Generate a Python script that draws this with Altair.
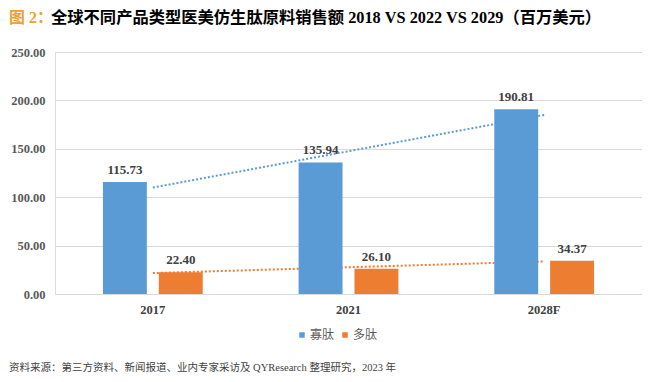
import altair as alt
import numpy as np
import pandas as pd

categories = ["2017", "2021", "2028F"]
series = ["寡肽", "多肽"]
oligo = [115.73, 135.94, 190.81]
poly = [22.40, 26.10, 34.37]
y_ticks = [0, 50, 100, 150, 200, 250]

title_prefix = "图 2："
title_main = "全球不同产品类型医美仿生肽原料销售额 2018 VS 2022 VS 2029（百万美元）"
source_text = "资料来源：第三方资料、新闻报道、业内专家采访及 QYResearch 整理研究，2023 年"

colors = ["#5B9BD5", "#ED7D31"]

rows = []
for s, vals in zip(series, [oligo, poly]):
    for c, v in zip(categories, vals):
        rows.append({"year": c, "series": s, "value": v})
df = pd.DataFrame(rows)

# linear trend lines (Excel-style) fitted on category index
trend_rows = []
idx = np.arange(1, len(categories) + 1)
for s, vals in zip(series, [oligo, poly]):
    k, b = np.polyfit(idx, vals, 1)
    for i, c in zip(idx, categories):
        trend_rows.append({"year": c, "series": s, "value": k * i + b})
tdf = pd.DataFrame(trend_rows)

SERIF = "Liberation Serif"
MIXED = "Liberation Serif, Noto Sans CJK SC"

x_enc = alt.X(
    "year:N",
    sort=categories,
    scale=alt.Scale(paddingInner=0.49, paddingOuter=0.245),
    axis=alt.Axis(
        title=None, labelAngle=0, ticks=False, domain=True, domainColor="#D9D9D9",
        labelPadding=9, labelFont=SERIF, labelFontWeight="bold", labelFontSize=12.5,
        labelColor="#404040",
    ),
)
y_enc = alt.Y(
    "value:Q",
    scale=alt.Scale(domain=[0, 250], nice=False),
    axis=alt.Axis(
        title=None, values=y_ticks, format=".2f", domain=False, ticks=False,
        grid=True, gridColor="#D9D9D9", gridWidth=1, labelPadding=10,
        labelFont=SERIF, labelFontWeight="bold", labelFontSize=12.5, labelColor="#595959",
    ),
)
xoff = alt.XOffset(
    "series:N", sort=series, scale=alt.Scale(paddingInner=0.214, paddingOuter=0)
)

trend_layers = []
for s, col in zip(series, colors):
    trend_layers.append(
        alt.Chart(tdf)
        .transform_filter(alt.datum.series == s)
        .mark_line(strokeDash=[2, 2], strokeWidth=2, color=col)
        .encode(x=x_enc, y=y_enc)
    )

bars = alt.Chart(df).mark_bar().encode(
    x=x_enc,
    xOffset=xoff,
    y=y_enc,
    color=alt.Color(
        "series:N",
        sort=series,
        scale=alt.Scale(domain=series, range=colors),
        legend=alt.Legend(
            title=None, orient="none", legendX=241, legendY=277, direction="horizontal",
            symbolType="square", symbolSize=30, symbolStrokeWidth=0,
            labelFont="Noto Sans CJK SC", labelFontSize=12, labelColor="#595959",
            labelOffset=2, columnPadding=4,
        ),
    ),
)

labels = alt.Chart(df).mark_text(
    baseline="alphabetic", dy=-8, font=SERIF, fontWeight="bold", fontSize=13, color="#404040"
).encode(x=x_enc, xOffset=xoff, y=y_enc, text=alt.Text("value:Q", format=".2f"))

t_prefix = alt.Chart(pd.DataFrame({"t": [title_prefix]})).mark_text(
    align="left", baseline="middle", font=MIXED, fontWeight="bold", fontSize=16,
    color="#F0A030",
).encode(x=alt.value(-46), y=alt.value(-34), text="t:N")

t_main = alt.Chart(pd.DataFrame({"t": [title_main]})).mark_text(
    align="left", baseline="middle", font=MIXED, fontWeight="bold", fontSize=16.3,
    color="#000000",
).encode(x=alt.value(-4), y=alt.value(-34), text="t:N")

src = alt.Chart(pd.DataFrame({"t": [source_text]})).mark_text(
    align="left", baseline="middle", font=MIXED, fontSize=10.5, color="#404040",
).encode(x=alt.value(-46), y=alt.value(316), text="t:N")

chart = (
    alt.layer(*trend_layers, bars, labels, t_prefix, t_main, src)
    .properties(
        width=587,
        height=242,
        autosize=alt.AutoSizeParams(type="none"),
        padding={"left": 47, "top": 44, "right": 0, "bottom": 80},
    )
    .configure_view(stroke=None)
    .configure(background="white")
)

chart.save("out.html", embed_options={"renderer": "svg", "actions": False})
